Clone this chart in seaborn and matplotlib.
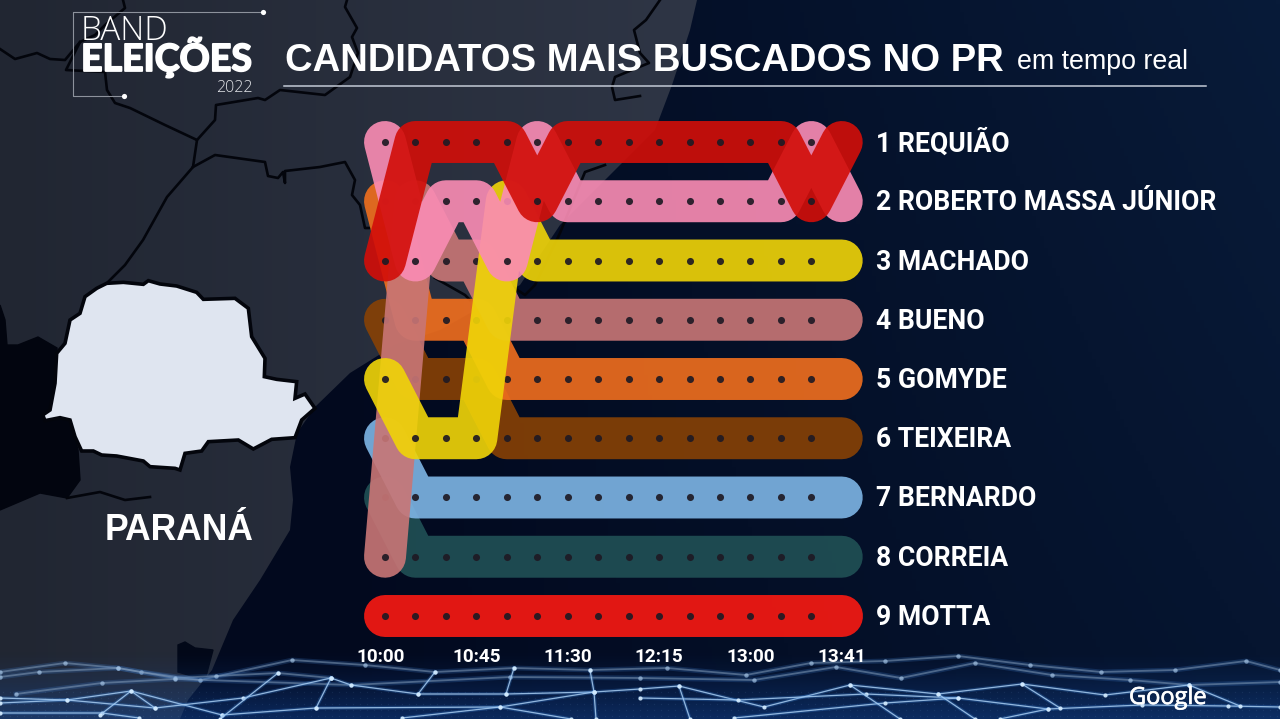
import numpy as np
import pandas as pd
import matplotlib
matplotlib.use("Agg")
import matplotlib.pyplot as plt
import matplotlib.patheffects as pe
from matplotlib.patches import Polygon
from matplotlib.transforms import Affine2D
import seaborn as sns

# ranking per sample, 10:00 to 13:41
times = list(range(16))
requiao = [3, 1, 1, 1, 1, 2, 1, 1, 1, 1, 1, 1, 1, 1, 2, 1]
massa = [1, 3, 2, 2, 3, 1, 2, 2, 2, 2, 2, 2, 2, 2, 1, 2]
machado = [5, 6, 6, 6, 2, 3, 3, 3, 3, 3, 3, 3, 3, 3, 3, 3]
bueno = [8, 2, 3, 3, 4, 4, 4, 4, 4, 4, 4, 4, 4, 4, 4, 4]
gomyde = [2, 4, 4, 4, 5, 5, 5, 5, 5, 5, 5, 5, 5, 5, 5, 5]
teixeira = [4, 5, 5, 5, 6, 6, 6, 6, 6, 6, 6, 6, 6, 6, 6, 6]
bernardo = [6, 7, 7, 7, 7, 7, 7, 7, 7, 7, 7, 7, 7, 7, 7, 7]
correia = [7, 8, 8, 8, 8, 8, 8, 8, 8, 8, 8, 8, 8, 8, 8, 8]
motta = [9, 9, 9, 9, 9, 9, 9, 9, 9, 9, 9, 9, 9, 9, 9, 9]

names = ["REQUIÃO", "ROBERTO MASSA JÚNIOR", "MACHADO", "BUENO", "GOMYDE",
         "TEIXEIRA", "BERNARDO", "CORREIA", "MOTTA"]
series = [requiao, massa, machado, bueno, gomyde, teixeira, bernardo, correia, motta]
colors = ["#d20e09", "#fa8cb4", "#f0d408", "#c87676", "#f06e1e",
          "#874105", "#7db4e4", "#205055", "#f81912"]
tick_pos = [-0.16, 3, 6, 9, 12, 15]
tick_labels = ["10:00", "10:45", "11:30", "12:15", "13:00", "13:41"]

W, H = 1280, 719
fig = plt.figure(figsize=(12.8, 7.19), dpi=100)

# --- background, in pixel coordinates ---
bg = fig.add_axes([0, 0, 1, 1])
bg.set_xlim(0, W)
bg.set_ylim(H, 0)
bg.axis("off")

xx = np.linspace(0, 1, 320)[None, :, None]
yy = np.linspace(0, 1, 180)[:, None, None]
ocean_a = np.array([2, 9, 30]) / 255
ocean_b = np.array([8, 27, 57]) / 255
ocean = ocean_a + (ocean_b - ocean_a) * np.clip((xx - 0.25) / 0.75, 0, 1) * (1 - 0.35 * yy)
bg.imshow(ocean, extent=(0, W, H, 0), aspect="auto", zorder=0)

coast = [(0, 0), (697, 0), (690, 30), (672, 85), (655, 130), (615, 170), (560, 225),
         (520, 285), (440, 330), (395, 345), (350, 373), (315, 407), (297, 433),
         (290, 467), (293, 500), (290, 530), (260, 580), (233, 620), (212, 670),
         (188, 700), (180, 719), (0, 719)]
land_a = np.array([33, 38, 50]) / 255
land_b = np.array([46, 53, 69]) / 255
land_img = land_a + (land_b - land_a) * np.clip(xx / 0.53, 0, 1)
land_img = np.repeat(land_img, 2, axis=0)
im = bg.imshow(land_img, extent=(0, W, H, 0), aspect="auto", zorder=1)
clip = Polygon(coast, closed=True, transform=bg.transData)
im.set_clip_path(clip)

# darker neighbour country and the small bay
dark_left = [(0, 305), (5, 320), (7, 345), (18, 345), (38, 337), (57, 348), (55, 400),
             (42, 417), (70, 420), (78, 450), (80, 480), (67, 498), (40, 493), (0, 510)]
bg.fill(*zip(*dark_left), color="#02050f", zorder=2)
bay = [(178, 645), (185, 642), (195, 648), (213, 650), (205, 680), (178, 672)]
bg.fill(*zip(*bay), color="#020818", zorder=2)

borders = [
    [(123, 0), (125, 8), (105, 25), (95, 35), (80, 42), (65, 60), (50, 59), (37, 53), (15, 59), (0, 49)],
    [(80, 42), (66, 70), (105, 72), (107, 90), (115, 103), (130, 108), (165, 125), (197, 140),
     (193, 167), (167, 197), (143, 240), (125, 265), (107, 283)],
    [(197, 140), (215, 120), (216, 105), (258, 98), (265, 100), (280, 90), (325, 95), (350, 77),
     (358, 53), (352, 37), (357, 28), (345, 7), (347, 0)],
    [(193, 167), (215, 155), (265, 162), (268, 176), (278, 178), (283, 172), (285, 183), (285, 171),
     (320, 167), (345, 162), (355, 180), (352, 195), (360, 205), (365, 228), (390, 228)],
    [(660, 0), (646, 20), (634, 30), (640, 53), (649, 63), (615, 77), (612, 87), (615, 100), (640, 96)],
    [(435, 278), (465, 295), (470, 300)],
    [(510, 285), (525, 295), (535, 285), (560, 233), (585, 172), (605, 165)],
    [(67, 498), (100, 492), (125, 500), (150, 497)],
]
for line in borders:
    bg.plot(*zip(*line), color="#03050c", lw=1.9, zorder=3, solid_joinstyle="round")

parana_zoom = np.array([
    (320, 100), (370, 97), (430, 103), (445, 92), (480, 102), (530, 108), (590, 127), (610, 148),
    (705, 145), (745, 175), (755, 260), (795, 325), (793, 380), (830, 388), (890, 395), (885, 445),
    (915, 432), (945, 475), (905, 510), (885, 563), (815, 568), (760, 597), (715, 570), (625, 575),
    (605, 603), (555, 610), (540, 660), (525, 655), (450, 650), (430, 633), (350, 618), (305, 615),
    (280, 603), (245, 603), (225, 560), (210, 510), (180, 503), (135, 512), (128, 495), (150, 480),
    (165, 400), (170, 310), (195, 280), (210, 210), (240, 190), (255, 140), (290, 115)])
parana = parana_zoom / 3 + np.array([0, 250])
bg.fill(parana[:, 0], parana[:, 1], facecolor="#dfe5f0", edgecolor="#03050c", lw=2.6, zorder=4)
bg.text(179, 531, "PARANÁ", color="white", fontsize=25.6, fontweight="bold",
        family="Liberation Sans", ha="center", va="center", zorder=5)

# blue glow under the network strip
glow = np.zeros((70, 2, 4))
glow[..., 0:3] = np.array([22, 78, 165]) / 255
glow[..., 3] = np.linspace(0, 0.55, 70)[:, None] ** 1.3
bg.imshow(glow, extent=(0, W, H, 650), aspect="auto", zorder=5)
bg.set_xlim(0, W)
bg.set_ylim(H, 0)

net_faint = [
    [(0, 672), (65, 663), (118, 668), (141, 672), (200, 680), (292, 660), (365, 665), (435, 672),
     (514, 668), (590, 670), (667, 668), (746, 675), (811, 663), (885, 661), (958, 656), (1030, 665),
     (1101, 672), (1175, 670), (1246, 661), (1280, 670)],
    [(0, 677), (39, 672), (118, 668), (175, 678), (216, 676), (278, 673), (331, 678)],
    [(16, 694), (102, 683), (175, 679), (351, 685), (510, 677), (640, 678), (754, 680), (836, 667),
     (901, 678), (975, 663), (1052, 675), (1130, 680), (1189, 685), (1280, 682)],
]
net_bright = [
    [(331, 678), (351, 685), (418, 694), (506, 694), (594, 692), (640, 689), (679, 686), (764, 707),
     (850, 685), (938, 694), (1022, 684), (1105, 695), (1189, 685)],
    [(0, 703), (67, 700), (131, 691), (222, 715)],
    [(0, 698), (67, 700), (155, 708), (243, 698), (331, 678)],
    [(0, 713), (102, 713), (139, 718)],
    [(222, 715), (316, 708), (500, 707), (594, 692)],
    [(402, 718), (500, 707), (571, 719)],
    [(316, 708), (331, 678)], [(418, 694), (435, 672)], [(506, 694), (514, 668)],
    [(594, 692), (590, 670)], [(596, 719), (594, 692)], [(220, 719), (278, 673)],
    [(155, 708), (131, 691), (100, 715)],
    [(640, 698), (738, 700), (866, 694), (958, 698), (1048, 709), (1142, 705), (1228, 706), (1280, 707)],
    [(734, 718), (885, 703), (958, 698)],
    [(679, 686), (690, 719)], [(850, 685), (900, 719)], [(938, 694), (975, 719)],
    [(1022, 684), (1060, 708)], [(1189, 685), (1240, 706)], [(1048, 709), (1000, 719)],
]
for line in net_faint:
    x, y = zip(*line)
    bg.plot(x, y, color="#3f7fd0", lw=3.5, alpha=0.22, zorder=6)
    bg.plot(x, y, color="#8aa3bf", lw=1.3, alpha=0.5, zorder=6)
    bg.scatter(x, y, s=10, color="#a9c9ea", alpha=0.65, linewidths=0, zorder=6)
for line in net_bright:
    x, y = zip(*line)
    bg.plot(x, y, color="#3f8ae0", lw=2.6, alpha=0.25, zorder=6)
    bg.plot(x, y, color="#a8cdf2", lw=0.9, alpha=0.85, zorder=6)
    bg.scatter(x, y, s=9, color="#d4ecff", alpha=0.9, linewidths=0, zorder=6)

# stippling in the strip
gx, gy = np.meshgrid(np.arange(3, W, 7), np.arange(692, H, 6))
bg.scatter(gx.ravel(), gy.ravel(), s=1, color="#7fb0e0", alpha=0.1, linewidths=0, zorder=5)

# logo and header
bg.plot([263, 73, 73, 124], [12, 12, 96, 96], color="#8d929c", lw=0.8, zorder=7)
bg.scatter([263, 124], [12, 96], s=14, color="white", linewidths=0, zorder=7)
bg.text(81, 40, "BAND", color="white", fontsize=24, family="Open Sans", fontweight="light",
        va="baseline", zorder=7)
bg.text(81, 71, "ELEIÇÕES", color="white", fontsize=27, family="Lato", fontweight="bold",
        va="baseline", zorder=7, path_effects=[pe.withStroke(linewidth=1.3, foreground="white")])
bg.text(253, 92, "2022", color="#e4e6ea", fontsize=11.5, family="Open Sans", fontweight="light",
        ha="right", va="baseline", zorder=7)

bg.text(285, 71, "CANDIDATOS MAIS BUSCADOS NO PR", color="white", fontsize=27.56,
        fontweight="bold", family="Liberation Sans", va="baseline", zorder=7)
bg.text(1017, 69, "em tempo real", color="white", fontsize=19.3,
        family="Liberation Sans", va="baseline", zorder=7)
bg.plot([284, 1206], [86, 86], color="#c3cad6", lw=1.1, zorder=7)
bg.text(1168, 698, "Google", color="white", fontsize=17, family="Open Sans",
        ha="center", va="center", zorder=7,
        path_effects=[pe.withStroke(linewidth=0.5, foreground="white")])

# --- bump chart ---
step_x, step_y = 30.45, 59.25
ax = fig.add_axes([340 / W, (H - 640) / H, 526 / W, 530 / H], zorder=2)
ax.patch.set_visible(False)

df = pd.DataFrame({"time": times * len(names),
                   "rank": sum(series, []),
                   "name": [n for n in names for _ in times]})

# lowest rank first so the top candidates end up on top
for i in range(len(names) - 1, -1, -1):
    sub = df[df["name"] == names[i]]
    z = 10 + (len(names) - i) * 2
    sns.lineplot(data=sub, x="time", y="rank", ax=ax, color=colors[i], lw=30.2, alpha=0.91,
                 estimator=None, sort=False, legend=False, zorder=z, clip_on=False,
                 solid_capstyle="round", solid_joinstyle="round")
    # the last sample has no dot
    sns.scatterplot(data=sub.iloc[:-1], x="time", y="rank", ax=ax, color="#1f1a24", s=26,
                    linewidth=0, alpha=0.92, legend=False, zorder=z + 1, clip_on=False)

ax.set_xlim((340 - 385) / step_x, (866 - 385) / step_x)
ax.set_ylim(1 + (640 - 142) / step_y, 1 + (110 - 142) / step_y)
ax.set_xlabel("")
ax.set_ylabel("")
ax.set_xticks(tick_pos)
ax.set_xticklabels(tick_labels, family="Roboto", fontweight="bold", color="white", fontsize=13.6)
ax.yaxis.tick_right()
ax.set_yticks(range(1, len(names) + 1))
ax.set_yticklabels([f"{i + 1} {n}" for i, n in enumerate(names)], family="Roboto",
                   fontweight="bold", color="white", fontsize=19.2, va="center_baseline")
ax.tick_params(axis="both", length=0)
ax.tick_params(axis="x", pad=6)
ax.tick_params(axis="y", pad=7.2)
sns.despine(ax=ax, left=True, bottom=True, top=True, right=True)

# labels sit a touch above the band centres
for lab in ax.get_yticklabels():
    lab.set_transform(lab.get_transform() + Affine2D().translate(0, 1.5))

fig.savefig("out.png", dpi=100)
